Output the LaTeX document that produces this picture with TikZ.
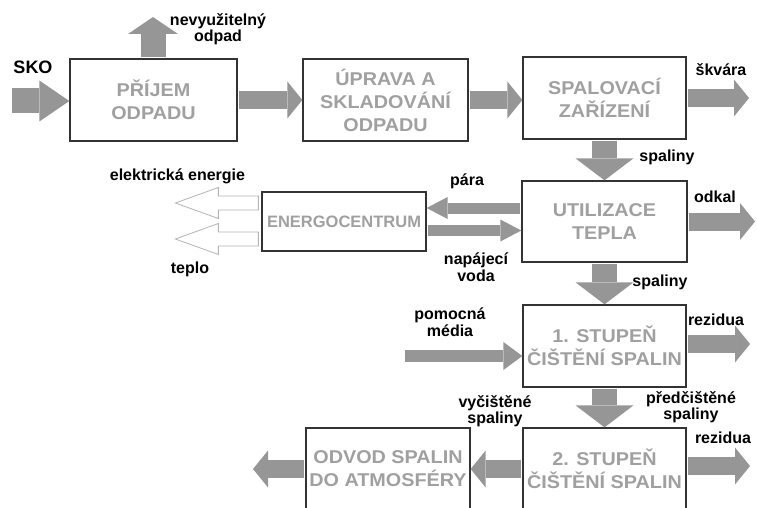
\documentclass[tikz,border=0pt]{standalone}
\usepackage{fontspec}
\setmainfont{Liberation Sans}
\newfontfamily\boxfont[FakeStretch=1.07]{Liberation Sans}
\usetikzlibrary{arrows.meta}
\definecolor{boxtext}{RGB}{160,160,160}
\definecolor{arrgray}{RGB}{150,150,150}
\definecolor{hollowgray}{RGB}{180,180,180}
\tikzset{
    box/.style={draw=black!80,line width=1.3pt,fill=white,text=boxtext,align=center,inner sep=0pt,
        font=\boxfont\bfseries\fontsize{18.5}{23}\selectfont},
    lbl/.style={align=center,inner sep=0pt,font=\bfseries\fontsize{16}{16.5}\selectfont},
    flow/.style={draw=arrgray,line width=18pt,shorten <=1pt,-{Triangle[length=15pt,width=37pt,line width=0pt]}},
    bigflow/.style={draw=arrgray,line width=25pt,shorten <=1pt,-{Triangle[length=22pt,width=58pt,line width=0pt]}},
    thinflow/.style={draw=arrgray,line width=11pt,shorten <=1pt,-{Triangle[length=21pt,width=22pt,line width=0pt]}},
    medflow/.style={draw=arrgray,line width=12pt,-{Triangle[length=19pt,width=28pt,line width=0pt]}},
    skoflow/.style={draw=arrgray,line width=25pt,-{Triangle[length=30pt,width=41pt,line width=0pt]}},
    upflow/.style={draw=arrgray,line width=25pt,shorten <=1pt,-{Triangle[length=17pt,width=50pt,line width=0pt]}},
    hollow/.style={draw=hollowgray,line width=0.8pt,fill=white,line join=miter}
}
\begin{document}
\begin{tikzpicture}[x=1pt,y=-1pt]
    \useasboundingbox (0,0) rectangle (757,508);
    \node[box,minimum width=167pt,minimum height=82pt] (prijem) at (153.5,100) {PŘÍJEM\\ODPADU};
    \node[box,minimum width=165pt,minimum height=82pt] (uprava) at (385.5,100) {ÚPRAVA A\\SKLADOVÁNÍ\\ODPADU};
    \node[box,minimum width=163pt,minimum height=82pt] (spal) at (604.5,98) {SPALOVACÍ\\ZAŘÍZENÍ};
    \node[box,minimum width=165pt,minimum height=81pt] (util) at (604.5,221.5) {UTILIZACE\\TEPLA};
    \node[box,minimum width=164pt,minimum height=59pt,font=\bfseries\fontsize{16.5}{20}\selectfont] (energo) at (344,221.5) {ENERGOCENTRUM};
    \node[box,minimum width=163pt,minimum height=82pt] (stupen1) at (604.5,346) {1. STUPEŇ\\ČIŠTĚNÍ SPALIN};
    \node[box,minimum width=163pt,minimum height=82pt] (stupen2) at (604.5,469) {2. STUPEŇ\\ČIŠTĚNÍ SPALIN};
    \node[box,minimum width=164pt,minimum height=82pt] (odvod) at (388,469) {ODVOD SPALIN\\DO ATMOSFÉRY};

    \coordinate (skoin) at (12,101);
    \coordinate (odpadout) at (153,17);
    \coordinate (skvaraout) at (749,98);
    \coordinate (odkalout) at (755,221.5);
    \coordinate (mediain) at (405,356);
    \coordinate (rez1out) at (750,344);
    \coordinate (rez2out) at (750,466);
    \coordinate (atmout) at (253,469);

    \draw[skoflow] (skoin) -- (skoin -| prijem.west);
    \draw[upflow] (odpadout |- prijem.north) -- (odpadout);
    \draw[flow] (prijem.east) -- (uprava.west);
    \draw[flow] (uprava.east) -- (uprava.east -| spal.west);
    \draw[flow] (spal.east) -- (skvaraout);
    \draw[bigflow] (spal.south) -- (util.north);
    \draw[thinflow] ([yshift=13.5pt]util.west) -- ([yshift=13.5pt]energo.east);
    \draw[thinflow] ([yshift=-9pt]energo.east) -- ([yshift=-9pt]util.west);
    \draw[flow] (util.east) -- (odkalout);
    \draw[bigflow] (util.south) -- (stupen1.north);
    \draw[medflow] (mediain) -- (mediain -| stupen1.west);
    \draw[flow] (stupen1.east |- rez1out) -- (rez1out);
    \draw[bigflow] (stupen1.south) -- (stupen2.north);
    \draw[flow] (stupen2.east |- rez2out) -- (rez2out);
    \draw[flow] (stupen2.west) -- (odvod.east);
    \draw[flow] (odvod.west) -- (atmout);
    \draw[hollow] ([xshift=-3pt,yshift=25.5pt]energo.west) -- ++(-40,0) -- ++(0,-8.5) -- ++(-43,15.5) -- ++(43,15.5) -- ++(0,-8.5) -- ++(40,0) -- cycle;
    \draw[hollow] ([xshift=-3pt,yshift=-10.5pt]energo.west) -- ++(-40,0) -- ++(0,-8.5) -- ++(-43,15.5) -- ++(43,15.5) -- ++(0,-8.5) -- ++(40,0) -- cycle;

    \node[lbl,font=\bfseries\fontsize{18}{20}\selectfont] (sko) at (33,67) {SKO};
    \node[lbl] (odpadlbl) at (218,29) {nevyužitelný\\odpad};
    \node[lbl] (skvara) at (721,70) {škvára};
    \node[lbl] (spaliny1) at (667,157) {spaliny};
    \node[lbl] (elenergie) at (177.5,176) {elektrická energie};
    \node[lbl] (teplo) at (190,269) {teplo};
    \node[lbl] (para) at (467,181) {pára};
    \node[lbl] (voda) at (476,267) {napájecí\\voda};
    \node[lbl] (odkal) at (715,197) {odkal};
    \node[lbl] (spaliny2) at (660,282) {spaliny};
    \node[lbl] (media) at (450,322) {pomocná\\média};
    \node[lbl] (rez1) at (716,320) {rezidua};
    \node[lbl] (vycistene) at (495,411) {vyčištěné\\spaliny};
    \node[lbl] (predcistene) at (691,407) {předčištěné\\spaliny};
    \node[lbl] (rez2) at (723,438) {rezidua};
\end{tikzpicture}
\end{document}
